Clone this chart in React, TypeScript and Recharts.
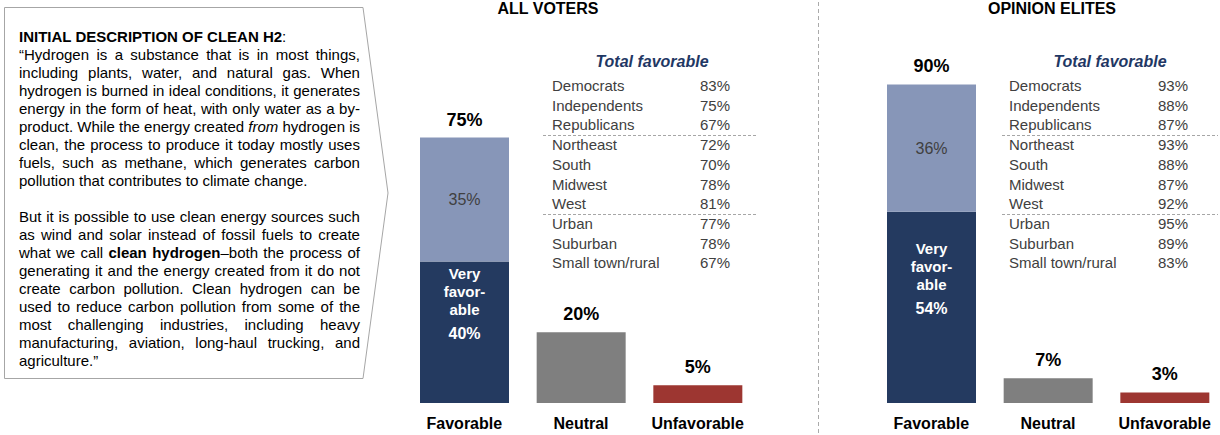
import React from "react";
import { BarChart, Bar, XAxis, YAxis, Cell, LabelList } from "recharts";

// bar categories
const categories = ["Favorable", "Neutral", "Unfavorable"];

// all voters: very favorable / neutral / unfavorable, then the somewhat favorable slice on top
const allVotersBase = [40, 20, 5];
const allVotersTop = [35, 0, 0];
const allVotersTotal = [75, 20, 5];

// opinion elites
const elitesBase = [54, 7, 3];
const elitesTop = [36, 0, 0];
const elitesTotal = [90, 7, 3];

// total favorable by group
const groups = [
  "Democrats",
  "Independents",
  "Republicans",
  "Northeast",
  "South",
  "Midwest",
  "West",
  "Urban",
  "Suburban",
  "Small town/rural",
];
const allVotersGroupFav = [83, 75, 67, 72, 70, 78, 81, 77, 78, 67];
const elitesGroupFav = [93, 88, 87, 93, 88, 87, 92, 95, 89, 83];
const groupBreaks = [2, 6]; // dashed rule after these rows

const baseColors = ["#243a60", "#7f7f7f", "#9d3631"];
const topColor = "#8796b8";
const FONT = '"Liberation Sans", Arial, sans-serif';

// intro text, one entry per printed line; true = justified
const introP1: [string, boolean][] = [
  ["“Hydrogen is a substance that is in most things,", true],
  ["including plants, water, and natural gas. When", true],
  ["hydrogen is burned in ideal conditions, it generates", true],
  ["energy in the form of heat, with only water as a by-", true],
  ["product. While the energy created *from* hydrogen is", true],
  ["clean, the process to produce it today mostly uses", true],
  ["fuels, such as methane, which generates carbon", true],
  ["pollution that contributes to climate change.", false],
];
const introP2: [string, boolean][] = [
  ["But it is possible to use clean energy sources such", true],
  ["as wind and solar instead of fossil fuels to create", true],
  ["what we call **clean** **hydrogen**–both the process of", true],
  ["generating it and the energy created from it do not", true],
  ["create carbon pollution. Clean hydrogen can be", true],
  ["used to reduce carbon pollution from some of the", true],
  ["most challenging industries, including heavy", true],
  ["manufacturing, aviation, long-haul trucking, and", true],
  ["agriculture.”", false],
];

const renderToken = (tok: string, k: number) => {
  const parts = tok.split(/(\*\*[^*]+\*\*|\*[^*]+\*)/).filter((p) => p !== "");
  return (
    <span key={k}>
      {parts.map((p, i) => {
        if (p.startsWith("**")) return <b key={i}>{p.slice(2, -2)}</b>;
        if (p.startsWith("*")) return <i key={i}>{p.slice(1, -1)}</i>;
        return <React.Fragment key={i}>{p}</React.Fragment>;
      })}
    </span>
  );
};

const IntroLine = ({ text, justify }: { text: string; justify: boolean }) => {
  if (!justify) return <div style={{ height: 18 }}>{text}</div>;
  const toks = text.split(" ");
  return (
    <div style={{ display: "flex", justifyContent: "space-between", height: 18, whiteSpace: "nowrap" }}>
      {toks.map((t, i) => renderToken(t, i))}
    </div>
  );
};

const IntroBox = () => (
  <>
    <svg width={400} height={400} style={{ position: "absolute", left: 0, top: 0 }}>
      <polygon
        points="4.5,7.5 363,7.5 388,193 363,378.5 4.5,378.5"
        fill="#fff"
        stroke="#a6a6a6"
        strokeWidth={1}
      />
    </svg>
    <div
      style={{
        position: "absolute",
        left: 19,
        top: 28,
        width: 341,
        fontSize: 15,
        lineHeight: "18px",
        color: "#000",
      }}
    >
      <div style={{ height: 18 }}>
        <b>INITIAL DESCRIPTION OF CLEAN H2</b>:
      </div>
      {introP1.map(([t, j], i) => (
        <IntroLine key={"a" + i} text={t} justify={j} />
      ))}
      <div style={{ height: 18 }} />
      {introP2.map(([t, j], i) => (
        <IntroLine key={"b" + i} text={t} justify={j} />
      ))}
    </div>
  </>
);

const getBox = (p: any) => {
  const vb = p.viewBox ?? p;
  return { x: Number(vb.x), y: Number(vb.y), w: Number(vb.width), h: Number(vb.height) };
};

const TotalText = ({ x, y, value }: { x: number; y: number; value: number }) => (
  <text x={x} y={y - 18} textAnchor="middle" dominantBaseline="central" fontSize={18} fontWeight="bold" fill="#000" fontFamily={FONT}>
    {`${value}%`}
  </text>
);

interface PanelProps {
  title: string;
  titleX: number;
  chartLeft: number;
  base: number[];
  top: number[];
  totals: number[];
  groupFav: number[];
  labelX: number;
  valueX: number;
  ruleX1: number;
  ruleX2: number;
  headerX: number;
}

const Panel: React.FC<PanelProps> = ({
  title,
  titleX,
  chartLeft,
  base,
  top,
  totals,
  groupFav,
  labelX,
  valueX,
  ruleX1,
  ruleX2,
  headerX,
}) => {
  const data = categories.map((cat, i) => ({
    cat,
    base: base[i],
    top: top[i],
    total: totals[i],
  }));

  // total above the stacked (favorable) bar
  const totalLabel = (p: any) => {
    if (!data[p.index] || !data[p.index].top) return null;
    const { x, y, w } = getBox(p);
    return <TotalText x={x + w / 2} y={y} value={p.value} />;
  };

  const topLabel = (p: any) => {
    if (!p.value) return null;
    const { x, y, w, h } = getBox(p);
    return (
      <text x={x + w / 2} y={y + h / 2} textAnchor="middle" dominantBaseline="central" fontSize={16} fill="#404040" fontFamily={FONT}>
        {`${p.value}%`}
      </text>
    );
  };

  const baseLabel = (p: any) => {
    const { x, y, w, h } = getBox(p);
    const cx = x + w / 2;
    const d = data[p.index];
    if (p.index !== 0) {
      // single bars carry their total directly above
      if (d && !d.top) return <TotalText x={cx} y={y} value={d.total} />;
      return null;
    }
    const mid = y + h / 2 - 29;
    const lines = ["Very", "favor-", "able"];
    return (
      <g fontFamily={FONT} fontWeight="bold" fill="#fff" textAnchor="middle">
        {lines.map((l, i) => (
          <text key={l} x={cx} y={mid - 30 + i * 18} dominantBaseline="central" fontSize={15}>
            {l}
          </text>
        ))}
        <text x={cx} y={mid + 30} dominantBaseline="central" fontSize={16}>
          {`${p.value}%`}
        </text>
      </g>
    );
  };

  const catTick = (p: any) => (
    <text x={p.x} y={p.y + 20} textAnchor="middle" dominantBaseline="central" fontSize={16} fontWeight="bold" fill="#000" fontFamily={FONT}>
      {p.payload.value}
    </text>
  );

  return (
    <>
      <div
        style={{
          position: "absolute",
          left: titleX - 100,
          width: 200,
          top: 0,
          textAlign: "center",
          fontSize: 16,
          fontWeight: "bold",
          lineHeight: "18px",
        }}
      >
        {title}
      </div>
      <div style={{ position: "absolute", left: chartLeft, top: 0 }}>
        <BarChart
          width={350}
          height={435}
          data={data}
          margin={{ top: 49, right: 0, bottom: 0, left: 0 }}
          barSize={89}
        >
          <XAxis
            dataKey="cat"
            height={32}
            axisLine={false}
            tickLine={false}
            tickSize={0}
            tickMargin={0}
            tick={catTick}
            interval={0}
          />
          <YAxis hide domain={[0, 100]} />
          <Bar dataKey="base" stackId="s" isAnimationActive={false}>
            {data.map((d, i) => (
              <Cell key={d.cat} fill={baseColors[i]} />
            ))}
            <LabelList dataKey="base" content={baseLabel} />
          </Bar>
          <Bar dataKey="top" stackId="s" fill={topColor} isAnimationActive={false}>
            <LabelList dataKey="top" content={topLabel} />
            <LabelList dataKey="total" content={totalLabel} />
          </Bar>
        </BarChart>
      </div>
      <div
        style={{
          position: "absolute",
          left: headerX - 100,
          width: 200,
          top: 52,
          textAlign: "center",
          fontSize: 16,
          fontWeight: "bold",
          fontStyle: "italic",
          color: "#1f3864",
          lineHeight: "20px",
        }}
      >
        Total favorable
      </div>
      {groups.map((g, i) => {
        const cy = 86 + i * 19.7;
        return (
          <React.Fragment key={g}>
            <div style={{ position: "absolute", left: labelX, top: cy - 10, fontSize: 15, lineHeight: "20px", color: "#404040" }}>
              {g}
            </div>
            <div style={{ position: "absolute", left: valueX, top: cy - 10, fontSize: 15, lineHeight: "20px", color: "#404040" }}>
              {`${groupFav[i]}%`}
            </div>
          </React.Fragment>
        );
      })}
      <svg width={1220} height={435} style={{ position: "absolute", left: 0, top: 0, pointerEvents: "none" }}>
        {groupBreaks.map((b) => {
          const y = Math.round(86 + (b + 0.5) * 19.7) + 0.5;
          return <line key={b} x1={ruleX1} x2={ruleX2} y1={y} y2={y} stroke="#a6a6a6" strokeDasharray="3 2" />;
        })}
      </svg>
    </>
  );
};

export default function App() {
  return (
    <div
      style={{
        position: "absolute",
        left: 0,
        top: 0,
        width: 1220,
        height: 435,
        background: "#fff",
        fontFamily: FONT,
        overflow: "hidden",
      }}
    >
      <IntroBox />
      <svg width={1220} height={435} style={{ position: "absolute", left: 0, top: 0 }}>
        <line x1={818.5} x2={818.5} y1={2} y2={435} stroke="#aaaaaa" strokeDasharray="4 3" />
      </svg>
      <Panel
        title="ALL VOTERS"
        titleX={548}
        chartLeft={406}
        base={allVotersBase}
        top={allVotersTop}
        totals={allVotersTotal}
        groupFav={allVotersGroupFav}
        labelX={552}
        valueX={700}
        ruleX1={543}
        ruleX2={758}
        headerX={652}
      />
      <Panel
        title="OPINION ELITES"
        titleX={1052}
        chartLeft={873}
        base={elitesBase}
        top={elitesTop}
        totals={elitesTotal}
        groupFav={elitesGroupFav}
        labelX={1009}
        valueX={1158}
        ruleX1={1002}
        ruleX2={1218}
        headerX={1110}
      />
    </div>
  );
}
